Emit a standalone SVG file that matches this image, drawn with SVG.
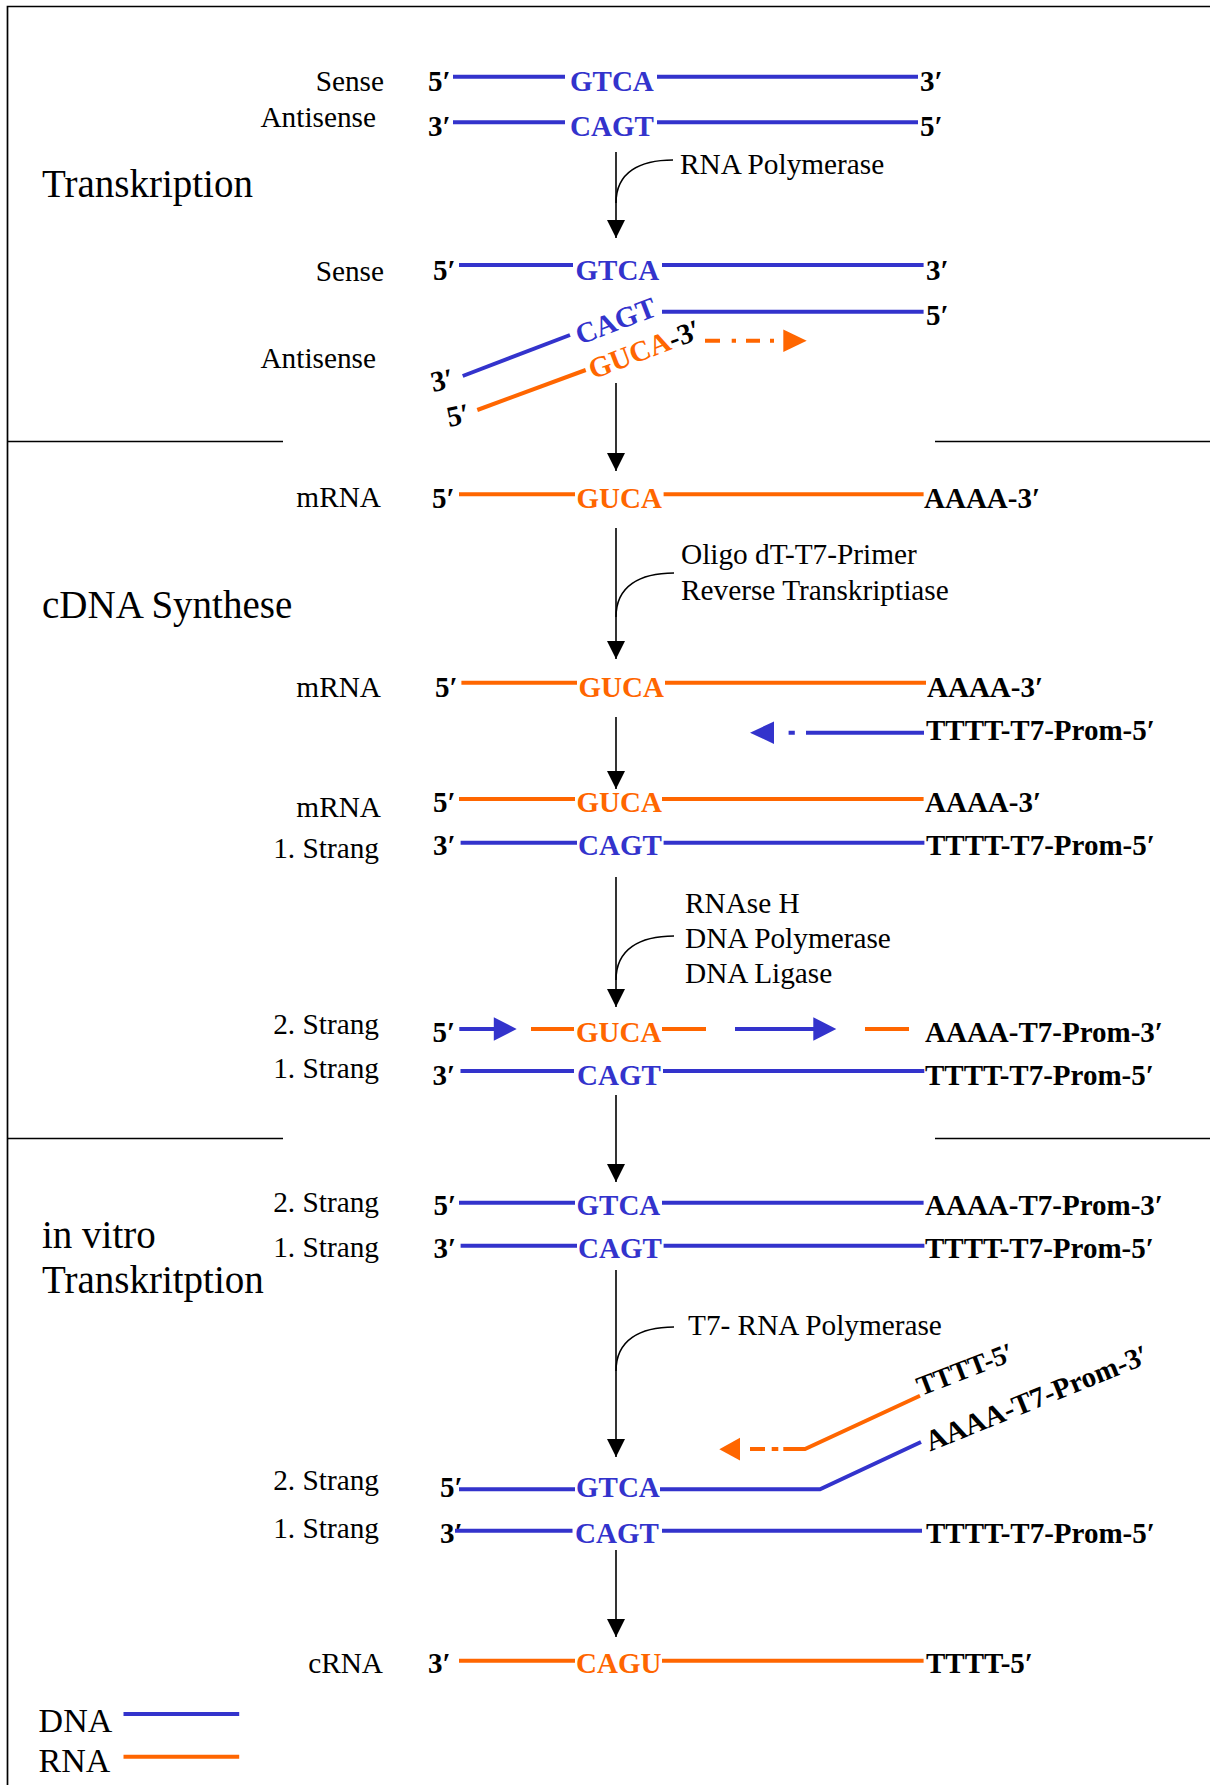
<svg xmlns="http://www.w3.org/2000/svg" width="1210" height="1785" viewBox="0 0 1210 1785">
<style>
text{font-family:"Liberation Serif","Times New Roman",serif;font-size:29.3px;fill:#000}
.b{font-weight:bold;font-size:29px}
.t{font-size:39px}
.lg{font-size:34px}
.end{text-anchor:end}
.sb{fill:#3333CC;font-weight:bold;font-size:29px}
.so{fill:#FF6600;font-weight:bold;font-size:29px}
.dna{stroke:#3333CC;stroke-width:4;fill:none}
.rna{stroke:#FF6600;stroke-width:4;fill:none}
.ar{stroke:#000;stroke-width:1.6;fill:none}
.frame{stroke:#000;stroke-width:1.7;fill:none}
</style>
<defs>
<marker id="ah" markerUnits="userSpaceOnUse" markerWidth="18" markerHeight="18" refX="18" refY="9" orient="auto">
<path d="M0,0 L18,9 L0,18 Z" fill="#000"/>
</marker>
</defs>
<rect width="1210" height="1785" fill="#fff"/>
<g id="frame">
<path class="frame" d="M7.5,1785 V6.5 H1210"/>
<path class="frame" d="M7.5,441.5 H283 M935,441.5 H1210 M7.5,1138.5 H283 M935,1138.5 H1210" stroke-width="1.5"/>
</g>
<g id="titles">
<text class="t" x="42" y="197">Transkription</text>
<text class="t" x="42" y="618">cDNA Synthese</text>
<text class="t" x="42" y="1248">in vitro</text>
<text class="t" x="42" y="1293">Transkritption</text>
</g>
<g id="connectors">
<path class="ar" d="M616,152 V238" marker-end="url(#ah)"/>
<path class="ar" d="M616,203 C616,172 640,160 673,160"/>
<path class="ar" d="M616,383 V471" marker-end="url(#ah)"/>
<path class="ar" d="M616,528 V659" marker-end="url(#ah)"/>
<path class="ar" d="M616,617 C616,586 640,573 674,573"/>
<path class="ar" d="M616,717 V789" marker-end="url(#ah)"/>
<path class="ar" d="M616,877 V1007" marker-end="url(#ah)"/>
<path class="ar" d="M616,980 C616,949 640,936 674,936"/>
<path class="ar" d="M616,1095 V1182" marker-end="url(#ah)"/>
<path class="ar" d="M616,1270 V1457" marker-end="url(#ah)"/>
<path class="ar" d="M616,1371 C616,1340 640,1327 674,1327"/>
<path class="ar" d="M616,1550 V1637" marker-end="url(#ah)"/>
</g>
<g id="enzymes">
<text x="680" y="174">RNA Polymerase</text>
<text x="681" y="564">Oligo dT-T7-Primer</text>
<text x="681" y="600">Reverse Transkriptiase</text>
<text x="685" y="913">RNAse H</text>
<text x="685" y="948">DNA Polymerase</text>
<text x="685" y="983">DNA Ligase</text>
<text x="688" y="1335">T7- RNA Polymerase</text>
</g>
<g id="ds1">
<text class="end" x="384" y="91">Sense</text>
<text class="b" x="428" y="91">5′</text>
<path class="dna" d="M453,76.7 H565 M657,76.7 H918"/>
<text class="sb" x="570" y="91">GTCA</text>
<text class="b" x="920" y="91">3′</text>
<text class="end" x="376" y="127">Antisense</text>
<text class="b" x="428" y="136">3′</text>
<path class="dna" d="M453,122.3 H565 M657,122.3 H918"/>
<text class="sb" x="570" y="136">CAGT</text>
<text class="b" x="920" y="136">5′</text>
</g>
<g id="transcribing">
<text class="end" x="384" y="281">Sense</text>
<text class="b" x="433" y="280">5′</text>
<path class="dna" d="M459,265 H573 M662,265 H923.6"/>
<text class="sb" x="575.5" y="280">GTCA</text>
<text class="b" x="926" y="280">3′</text>
<path class="dna" d="M662,311.7 H923.6"/>
<text class="b" x="926" y="325">5′</text>
<text class="end" x="376" y="368">Antisense</text>
<path class="dna" d="M462.7,376 L570,335"/>
<text class="sb" transform="translate(580,345) rotate(-21)">CAGT</text>
<path class="rna" d="M477.3,410 L585.7,370"/>
<text class="so" transform="translate(593,379.5) rotate(-21)">GUCA<tspan class="b" fill="#000">-3′</tspan></text>
<text class="b" transform="translate(433,392) rotate(-12)">3′</text>
<text class="b" transform="translate(449,427) rotate(-12)">5′</text>
<path class="rna" d="M705,340.7 H720 M731.7,340.7 H736 M746,340.7 H760 M770,340.7 H774"/>
<path d="M783.3,329.5 L806.7,340.7 L783.3,352 Z" fill="#FF6600"/>
</g>
<g id="mrna1">
<text class="end" x="381" y="507">mRNA</text>
<text class="b" x="432" y="508">5′</text>
<path class="rna" d="M459,494.3 H575 M663.6,494.3 H923.6"/>
<text class="so" x="576.5" y="508">GUCA</text>
<text class="b" x="924" y="508">AAAA-3′</text>
</g>
<g id="mrna2">
<text class="end" x="381" y="697">mRNA</text>
<text class="b" x="435" y="697">5′</text>
<path class="rna" d="M461.4,682.7 H577 M665,682.7 H926"/>
<text class="so" x="578.5" y="697">GUCA</text>
<text class="b" x="927" y="697">AAAA-3′</text>
</g>
<g id="primer">
<path class="dna" d="M806,732.7 H924 M788.6,732.7 H794.8"/>
<path d="M774,721.5 L750,732.7 L774,744 Z" fill="#3333CC"/>
<text class="b" x="926" y="740">TTTT-T7-Prom-5′</text>
</g>
<g id="hybrid1">
<text class="end" x="381" y="817">mRNA</text>
<text class="b" x="433" y="812">5′</text>
<path class="rna" d="M459,799 H575 M662,799 H923.6"/>
<text class="so" x="576.5" y="812">GUCA</text>
<text class="b" x="925" y="812">AAAA-3′</text>
<text class="end" x="379" y="858">1. Strang</text>
<text class="b" x="433" y="855">3′</text>
<path class="dna" d="M460.6,842.7 H577 M663.6,842.7 H924.4"/>
<text class="sb" x="578" y="855">CAGT</text>
<text class="b" x="926" y="855">TTTT-T7-Prom-5′</text>
</g>
<g id="secondstrand">
<text class="end" x="379" y="1034">2. Strang</text>
<text class="b" x="432.5" y="1042">5′</text>
<path class="dna" d="M459.3,1029 H496 M735,1029 H815"/>
<path d="M493.8,1017.3 L516.7,1029 L493.8,1040.7 Z M813.3,1017.3 L836.3,1029 L813.3,1040.7 Z" fill="#3333CC"/>
<path class="rna" d="M531,1029 H574 M662,1029 H706 M865,1029 H909"/>
<text class="so" x="576" y="1042">GUCA</text>
<text class="b" x="925" y="1042">AAAA-T7-Prom-3′</text>
<text class="end" x="379" y="1078">1. Strang</text>
<text class="b" x="432.5" y="1085">3′</text>
<path class="dna" d="M460.5,1071 H574 M663,1071 H924.3"/>
<text class="sb" x="577" y="1085">CAGT</text>
<text class="b" x="925" y="1085">TTTT-T7-Prom-5′</text>
</g>
<g id="cdna">
<text class="end" x="379" y="1212">2. Strang</text>
<text class="b" x="433.6" y="1215">5′</text>
<path class="dna" d="M459,1202.7 H575 M662,1202.7 H923.6"/>
<text class="sb" x="576.5" y="1215">GTCA</text>
<text class="b" x="925" y="1215">AAAA-T7-Prom-3′</text>
<text class="end" x="379" y="1257">1. Strang</text>
<text class="b" x="433.6" y="1258">3′</text>
<path class="dna" d="M460.6,1245.7 H577 M663.6,1245.7 H924.4"/>
<text class="sb" x="578" y="1258">CAGT</text>
<text class="b" x="925" y="1258">TTTT-T7-Prom-5′</text>
</g>
<g id="ivt">
<path class="rna" d="M783.3,1449 H805 L920,1395.7 M771.7,1449 H778.3 M750,1449 H765"/>
<path d="M740,1437.8 L719.3,1449.2 L740,1460.6 Z" fill="#FF6600"/>
<text class="b" style="font-size:27.5px" transform="translate(921,1396) rotate(-21)">TTTT-5′</text>
<path class="dna" d="M459,1489.3 H575 M660,1489.3 H820 L921,1442"/>
<text class="b" transform="translate(930,1451.5) rotate(-22)">AAAA-T7-Prom-3′</text>
<text class="end" x="379" y="1490">2. Strang</text>
<text class="b" x="440" y="1497">5′</text>
<text class="sb" x="576" y="1497">GTCA</text>
<text class="end" x="379" y="1538">1. Strang</text>
<text class="b" x="440" y="1543">3′</text>
<path class="dna" d="M455,1530.7 H572.5 M662,1530.7 H922"/>
<text class="sb" x="575" y="1543">CAGT</text>
<text class="b" x="926" y="1543">TTTT-T7-Prom-5′</text>
</g>
<g id="crna">
<text class="end" x="383" y="1673">cRNA</text>
<text class="b" x="428" y="1673">3′</text>
<path class="rna" d="M459,1660.7 H575 M662,1660.7 H923.6"/>
<text class="so" x="576" y="1673">CAGU</text>
<text class="b" x="926" y="1673">TTTT-5′</text>
</g>
<g id="legend">
<text class="lg" x="38.6" y="1732">DNA</text>
<path class="dna" d="M123.5,1714 H239.2"/>
<text class="lg" x="38.6" y="1772">RNA</text>
<path class="rna" d="M123.5,1756.7 H239.2"/>
</g>
</svg>
